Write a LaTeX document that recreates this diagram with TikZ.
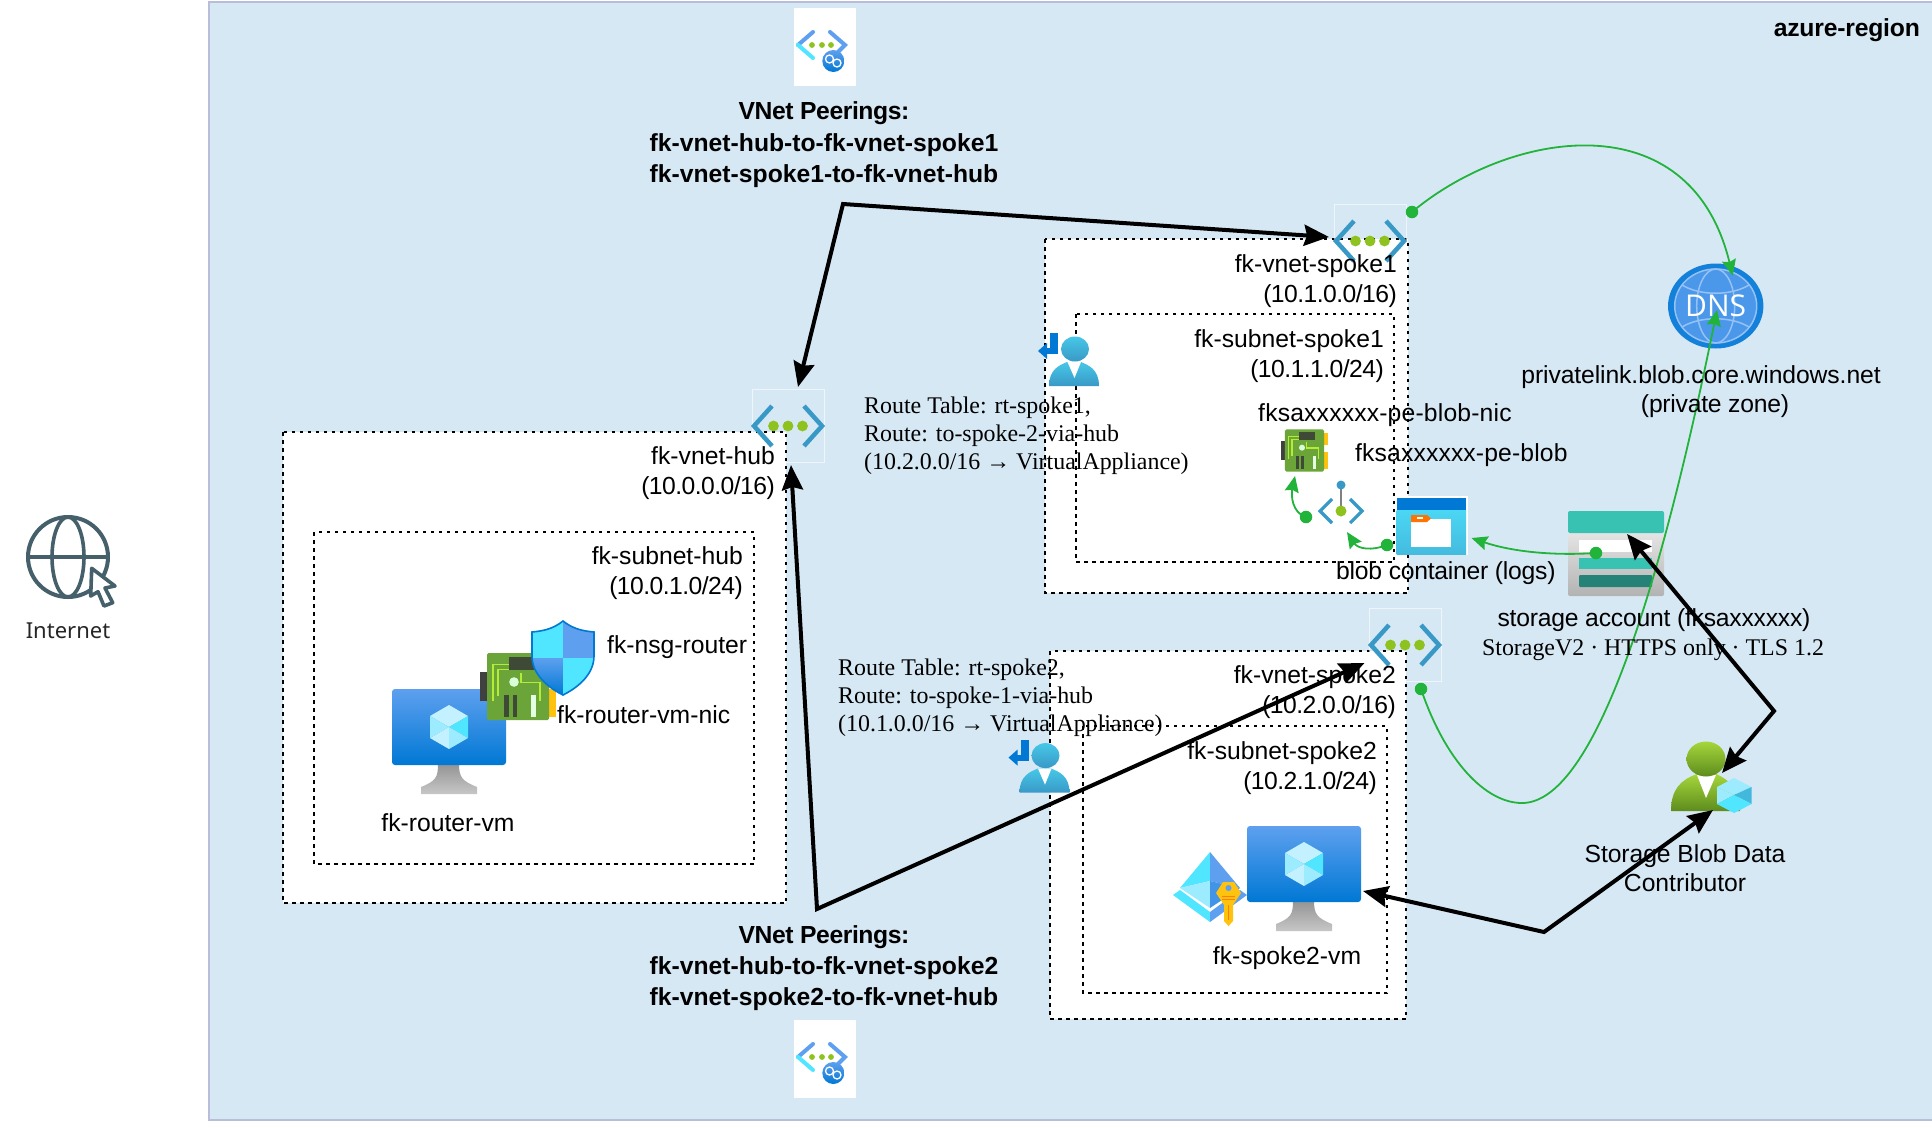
\documentclass[tikz,border=0pt]{standalone}
\usepackage{fontspec}
\setmainfont{Liberation Sans}
\newfontfamily\rtfont{Liberation Serif}
\newfontfamily\inetfont{Noto Sans}
\newfontfamily\dnsfont{Open Sans}
\newcommand\lsp[2]{{\addfontfeature{LetterSpace=#1}#2}}
\usetikzlibrary{arrows.meta,calc}
\definecolor{regionfill}{HTML}{D7E8F5}
\definecolor{regionline}{HTML}{B9BDD9}
\definecolor{gline}{HTML}{22B33A}
\definecolor{chev}{HTML}{3999C6}
\definecolor{vdot}{HTML}{8DC21F}
\definecolor{azc}{HTML}{50E6FF}
\definecolor{azl}{HTML}{C3F1FF}
\definecolor{azm}{HTML}{9CEBFF}
\definecolor{azb}{HTML}{5EA0EF}
\definecolor{azd}{HTML}{0078D4}
\definecolor{inetc}{HTML}{45606A}
\definecolor{teal}{HTML}{37C2B1}
\definecolor{dteal}{HTML}{258277}
\definecolor{nicgreen}{HTML}{6BA539}
\definecolor{niclight}{HTML}{B4EC36}
\definecolor{nicdark}{HTML}{3E4A36}
\definecolor{roletop}{HTML}{A5D63A}
\definecolor{rolebot}{HTML}{5E8C1E}
\definecolor{nicyellow}{HTML}{FFC20E}
\tikzset{
  lab/.style={inner sep=0pt,font=\fontsize{24.7}{29.5}\selectfont,align=center,text=black},
  labr/.style={lab,align=right},
  labb/.style={lab,font=\fontsize{24.7}{31.4}\selectfont\bfseries},
  labs/.style={lab,align=left,font=\fontsize{23.9}{28}\selectfont\rtfont},
  zone/.style={draw=black,fill=white,line width=2pt,dash pattern=on 3.5pt off 4.5pt},
  iconbox/.style={inner sep=0pt,outer sep=0pt,draw=none,rectangle},
  vnetbox/.style={iconbox,draw=white,draw opacity=.6,line width=.6pt,minimum width=72pt,minimum height=73pt},
  gdot/.style={circle,fill=gline,draw=none,minimum size=12.5pt,inner sep=0pt},
  bigarrow/.style={draw=black,line width=4pt,miter limit=20,{Stealth[length=25pt,width=21pt,inset=3pt]}-{Stealth[length=25pt,width=21pt,inset=3pt]}},
  glink/.style={draw=gline,line width=1.8pt,-{Stealth[length=16pt,width=14pt,inset=2pt]}},
  pics/vnetmark/.style={code={
    \draw[chev,line width=4.5pt] (-16,-20) -- (-34,0) -- (-16,20);
    \draw[chev,line width=4.5pt] (16,-20) -- (34,0) -- (16,20);
    \foreach \u in {-14.5,0,14.5}{\fill[vdot] (\u,0) circle[radius=5.4];}
  }},
  pics/peermark/.style={code={
    \fill[white] (-31,-39) rectangle (31,39);
    \draw[azb,line width=4pt,line cap=round] (-12,-15) -- (-27,-2);
    \draw[azc,line width=4pt,line cap=round] (-27,-2) -- (-12,11);
    \draw[azb,line width=4pt,line cap=round] (5,-15) -- (20,-2) -- (12,6);
    \foreach \u in {-13,-3,6}{\fill[vdot] (\u,-2) circle[radius=2.9];}
    \shade[top color=azb,bottom color=azd] (8.3,14) circle[radius=11];
    \draw[white,line width=1.3pt] (4.5,12) circle[radius=4];
    \draw[white,line width=1.3pt] (12,16) circle[radius=4];
  }},
  pics/monitormark/.style={code={
    \shade[top color=black!42,bottom color=black!22] (-11,37) -- (10,37) .. controls (10,50) and (13,54) .. (28,60) -- (28,67) -- (-28,67) -- (-28,60) .. controls (-13,54) and (-11,50) .. (-11,37) -- cycle;
    \shade[top color=azb,bottom color=azd,rounded corners=3pt] (-57,-38) rectangle (57,38);
    \fill[azl] (0,-22) -- (19,-11) -- (0,0) -- (-19,-11) -- cycle;
    \fill[azm] (-19,-11) -- (0,0) -- (-19,11) -- cycle;
    \fill[azc] (19,-11) -- (0,0) -- (19,11) -- cycle;
    \fill[azl] (-19,11) -- (0,0) -- (0,22) -- cycle;
    \fill[azm] (19,11) -- (0,0) -- (0,22) -- cycle;
  }},
  pics/nicmark/.style={code={
    \fill[black!75] (-38,-14.5) rectangle (-31,14.5);
    \fill[nicyellow] (31,-27) rectangle (38,-9);
    \fill[nicyellow] (31,2) rectangle (38,30);
    \fill[nicgreen,rounded corners=1.5pt] (-31,-33.5) rectangle (31,33.5);
    \draw[niclight,line width=1.4pt] (-25,14) -- (-25,-22) -- (-9,-22);
    \draw[niclight,line width=1.4pt] (-20,9) -- (-20,-17) -- (-9,-17);
    \draw[niclight,line width=1.4pt] (3,-14) -- (3,-4) -- (22,-4) -- (22,14);
    \fill[nicdark] (-9,-30) rectangle (17,-17);
    \fill[white!85!green] (-4,-4.5) circle[radius=4.8];
    \fill[nicdark] (-14,8.5) rectangle (-9,30);
    \fill[nicdark] (-5.5,8.5) rectangle (-1,30);
    \fill[white!90!green] (13,8.5) rectangle (18,30);
  }},
  pics/routemark/.style={code={
    \shade[top color=azc!60!chev,bottom color=chev] (-25,25) .. controls (-25,8) and (-14,4) .. (-7,1) -- (7,1) .. controls (14,4) and (25,8) .. (25,25) -- cycle;
    \fill[white] (-6.5,1) -- (7,1) -- (0.5,17) -- cycle;
    \shade[top color=azc!60!chev,bottom color=chev] (1,-12) ellipse[x radius=14,y radius=12.5];
    \fill[azd] (-24,-28) rectangle (-16,-7) ;
    \fill[azd] (-29,-13) rectangle (-16,-7);
    \fill[azd] (-36,-10) -- (-27,-18) -- (-27,-2) -- cycle;
  }},
}
\begin{document}
\begin{tikzpicture}[x=1pt,y=-1pt]
\useasboundingbox (0,0) rectangle (1932,1122);
\fill[white] (0,0) rectangle (1932,1122);
\draw[regionline,fill=regionfill,line width=2pt] (209,2) rectangle (1933,1120);

% zones
\path[zone] (283,432) rectangle (786,903);
\path[zone] (314,532) rectangle (754,864);
\path[zone] (1045,239) rectangle (1408,593);
\path[zone] (1076,314) rectangle (1394,562);
\path[zone] (1050,651) rectangle (1406,1019);
\path[zone] (1083,726) rectangle (1387,993);

% vnet icons
\node[vnetbox] (vnethub) at (788,426) {};
\pic at (788,426) {vnetmark};
\node[vnetbox] (vnetspoke1) at (1370,241) {};
\pic at (1370,241) {vnetmark};
\node[vnetbox] (vnetspoke2) at (1405,645) {};
\pic at (1405,645) {vnetmark};

% peering icons
\node[iconbox,minimum width=62pt,minimum height=78pt] (peeringtop) at (825,47) {};
\pic at (825,47) {peermark};
\node[iconbox,minimum width=62pt,minimum height=78pt] (peeringbottom) at (825,1059) {};
\pic at (825,1059) {peermark};

% internet
\node[iconbox,minimum width=82pt,minimum height=82pt] (internet) at (68,557) {};
\draw[inetc,line width=4pt] (68,557) circle[radius=40];
\draw[inetc,line width=3.6pt] (68,557) ellipse[x radius=16,y radius=40];
\draw[inetc,line width=3.6pt] (28,557) -- (108,557);
\draw[inetc,fill=white,line width=3.6pt,line join=round] (91.7,568.3) -- (115,586) -- (105,588) -- (112.7,602.7) -- (104,606) -- (98,591.7) -- (90.7,596) -- cycle;

% router vm + nic + nsg
\node[iconbox,minimum width=114pt,minimum height=76pt] (routervm) at (449,727) {};
\pic at (449,727) {monitormark};
\node[iconbox,minimum width=62pt,minimum height=67pt] (routernic) at (518,686.5) {};
\pic at (518,686.5) {nicmark};
\node[iconbox,minimum width=62pt,minimum height=74pt] (nsg) at (563,658) {};
\begin{scope}[shift={(563,658)}]
  \begin{scope}
    \clip (0,-37) .. controls (10,-29) and (20,-27) .. (31,-26) -- (31,-2) .. controls (31,17) and (14,30) .. (0,37) .. controls (-14,30) and (-31,17) .. (-31,-2) -- (-31,-26) .. controls (-20,-27) and (-10,-29) .. (0,-37) -- cycle;
    \fill[azc] (-31,-37) rectangle (0,0);
    \fill[azb] (0,-37) rectangle (31,0);
    \shade[top color=azb,bottom color=azd] (-31,0) rectangle (0,37);
    \fill[azc] (0,0) rectangle (31,37);
  \end{scope}
  \draw[azd,line width=1.6pt] (0,-37) .. controls (10,-29) and (20,-27) .. (31,-26) -- (31,-2) .. controls (31,17) and (14,30) .. (0,37) .. controls (-14,30) and (-31,17) .. (-31,-2) -- (-31,-26) .. controls (-20,-27) and (-10,-29) .. (0,-37) -- cycle;
\end{scope}

% route table icons
\node[iconbox,minimum width=61pt,minimum height=53pt] (routeicon1) at (1068.5,359.5) {};
\pic at (1074,361) {routemark};
\node[iconbox,minimum width=61pt,minimum height=53pt] (routeicon2) at (1039,766) {};
\pic at (1044.5,767.6) {routemark};

% private endpoint nic
\node[iconbox,minimum width=39pt,minimum height=43pt] (penic) at (1304.5,450.5) {};
\pic[scale=.63] at (1304.5,450.5) {nicmark};

% private endpoint
\node[iconbox,minimum width=45pt,minimum height=38pt] (pe) at (1341,504) {};
\draw[black!50,line width=2pt] (1341,486) -- (1341,511);
\fill[chev] (1341,485) circle[radius=4.5];
\fill[vdot] (1341,511) circle[radius=5.5];
\draw[chev,line width=3.2pt] (1332,499) -- (1320,511) -- (1332,523);
\draw[chev,line width=3.2pt] (1350,499) -- (1362,511) -- (1350,523);

% blob container
\node[iconbox,minimum width=73.5pt,minimum height=59pt,fill=white] (blob) at (1431.7,525.5) {};
\shade[top color=azc!80!chev,bottom color=azc!45!chev] (1396.5,510) rectangle (1466,554);
\fill[azd] (1396.5,497.5) rectangle (1466,510);
\fill[white] (1411,519) rectangle (1451,547);
\fill[orange!90!red] (1411,515) -- (1427,515) -- (1431,518.5) -- (1427,522) -- (1411,522) -- cycle;
\fill[white] (1417,517.3) rectangle (1423,519);

% storage account
\node[iconbox,minimum width=96pt,minimum height=85pt] (storage) at (1616,553.5) {};
\shade[top color=black!8,bottom color=black!30,rounded corners=2pt] (1568,525) rectangle (1664,596);
\fill[teal,rounded corners=2pt] (1568,511) rectangle (1664,533);
\fill[white] (1579,540) rectangle (1652,552);
\fill[teal] (1579,558) rectangle (1652,569);
\fill[dteal,rounded corners=1pt] (1579,575) rectangle (1652,587);

% dns
\node[iconbox,minimum width=95pt,minimum height=85pt] (dns) at (1715.7,306) {};
\fill[azd!80!azb] (1715.7,306) ellipse[x radius=47.7,y radius=42.5];
\fill[azb!80!azd] (1715.7,306) ellipse[x radius=41,y radius=37];
\draw[azb!65!white,line width=1.5pt] (1715.7,306) ellipse[x radius=41,y radius=37];
\draw[azb!65!white,line width=1.5pt] (1715.7,306) ellipse[x radius=19,y radius=37];
\draw[azb!65!white,line width=1.5pt] (1682,285) .. controls (1700,296) and (1731,296) .. (1749,285);
\draw[azb!65!white,line width=1.5pt] (1682,327) .. controls (1700,316) and (1731,316) .. (1749,327);
\node[inner sep=0pt,text=white,font=\fontsize{30}{30}\dnsfont] (dnstext) at (1715.7,306) {DNS};

% spoke2 vm
\node[iconbox,minimum width=114pt,minimum height=76pt] (spoke2vm) at (1304,864) {};
\pic at (1304,864) {monitormark};

% identity / key
\node[iconbox,minimum width=74pt,minimum height=74pt] (keyicon) at (1210,889) {};
\fill[azc] (1173,895) -- (1180,890) -- (1210,912) -- (1210,922) -- cycle;
\fill[azb] (1247,895) -- (1240,890) -- (1210,912) -- (1210,922) -- cycle;
\fill[azc] (1210,852) -- (1180,888) -- (1210,881) -- cycle;
\fill[azm] (1180,888) -- (1210,881) -- (1210,908) -- cycle;
\fill[azb] (1210,852) -- (1240,888) -- (1210,881) -- cycle;
\fill[azb!70!azd] (1240,888) -- (1210,881) -- (1210,908) -- cycle;
\fill[nicyellow] (1216,893) -- (1223,882) -- (1234,882) -- (1241,893) -- (1233,905) -- (1233,921) -- (1228.5,926) -- (1224,921) -- (1224,905) -- cycle;
\fill[azb] (1228.5,888) circle[radius=3];
\draw[orange,line width=1pt] (1222,896) -- (1235,896);
\draw[orange,line width=1pt] (1222,899) -- (1235,899);
\draw[orange,line width=1pt] (1228,905) -- (1228,920);

% role
\node[iconbox,minimum width=80pt,minimum height=71pt] (role) at (1711,777.5) {};
\shade[top color=roletop,bottom color=rolebot] (1671,811) .. controls (1671,790) and (1680,780) .. (1697,774) -- (1716,774) .. controls (1730,780) and (1740,790) .. (1740,811) -- cycle;
\fill[white] (1697,775) -- (1716,775) -- (1706,798) -- cycle;
\shade[top color=roletop,bottom color=rolebot] (1706,759) ellipse[x radius=19.5,y radius=17.5];
\fill[azm] (1734,778) -- (1751.5,787) -- (1734,795) -- (1717,787) -- cycle;
\fill[chev!60!azc] (1751.5,787) -- (1751.5,804) -- (1734,795) -- cycle;
\fill[azm] (1717,787) -- (1734,795) -- (1717,804) -- cycle;
\fill[azc] (1717,804) -- (1734,795) -- (1751.5,804) -- (1734,813) -- cycle;

% way points
\coordinate (waytop) at (843,204);
\coordinate (waybottom) at (817,909);
\coordinate (wayright) at (1774,711);
\coordinate (waylow) at (1544,932);

% green dots
\node[gdot] (dotspoke1) at (1412,212) {};
\node[gdot] (dotspoke2) at (1421,689) {};
\node[gdot] (dotpe) at (1306,517) {};
\node[gdot] (dotblob) at (1387,545) {};
\node[gdot] (dotstorage) at (1596,553) {};

% green links
\draw[glink] (dotspoke1.center) .. controls (1510,130) and (1690,100) .. ($(dns)+(17,-30.3)$);
\draw[glink] (dotspoke2.center) .. controls (1445,760) and (1485,803) .. (1522,803) .. controls (1585,803) and (1650,640) .. ($(dns)+(1.3,4)$);
\draw[glink] (dotpe.center) .. controls (1292,513) and (1291,495) .. ($(penic.south)+(-9.5,4)$);
\draw[glink] (dotblob.center) .. controls (1372,551) and (1358,549) .. ($(pe.south)+(6,9)$);
\draw[glink] (dotstorage.center) .. controls (1550,556) and (1510,551) .. ($(blob.east)+(3,12.5)$);

% black links
\draw[bigarrow] ($(vnethub)+(10,-39)$) -- (waytop) -- ($(vnetspoke1)+(-41,-4)$);
\draw[bigarrow] ($(vnethub)+(3,39)$) -- (waybottom) -- ($(vnetspoke2)+(-40.5,18)$);
\draw[bigarrow] ($(storage)+(11,-19.5)$) -- (wayright) -- ($(role)+(11,-4.5)$);
\draw[bigarrow] ($(spoke2vm)+(59,27)$) -- (waylow) -- ($(role)+(2,32.5)$);

% labels
\node[labb] (t1) at (824,145) {\lsp{-1.7}{VNet Peerings:}\\fk-vnet-hub-to-fk-vnet-spoke1\\fk-vnet-spoke1-to-fk-vnet-hub};
\node[labb] (t2) at (824,968) {\lsp{-1.7}{VNet Peerings:}\\fk-vnet-hub-to-fk-vnet-spoke2\\fk-vnet-spoke2-to-fk-vnet-hub};
\node[labb,anchor=east] (t3) at (1920,30.5) {\lsp{-.8}{azure-region}};
\node[labr,anchor=east] (t4) at (775,473) {fk-vnet-hub\\\lsp{-2.2}{(10.0.0.0/16)}};
\node[labr,anchor=east] (t5) at (743,573) {fk-subnet-hub\\\lsp{-2.2}{(10.0.1.0/24)}};
\node[lab,anchor=west] (t6) at (607,647.5) {fk-nsg-router};
\node[lab,anchor=west] (t7) at (557,715) {fk-router-vm-nic};
\node[lab] (t8) at (448,823) {fk-router-vm};
\node[labr,anchor=east] (t9) at (1397,281) {fk-vnet-spoke1\\\lsp{-2.2}{(10.1.0.0/16)}};
\node[labr,anchor=east] (t10) at (1384,356) {fk-subnet-spoke1\\\lsp{-2.2}{(10.1.1.0/24)}};
\node[lab,anchor=west] (t11) at (1258,415.5) {\lsp{.7}{fksaxxxxxx-pe-blob-nic}};
\node[lab,anchor=west] (t12) at (1355,455.5) {\lsp{.55}{fksaxxxxxx-pe-blob}};
\node[lab,anchor=west] (t13) at (1336,573.5) {\lsp{-1}{blob container (logs)}};
\node[lab] (t14) at (1701,377.5) {\lsp{-.4}{privatelink.blob.core.windows.net}};
\node[lab] (t15) at (1715,406.5) {\lsp{-1}{(private zone)}};
\node[lab] (t16) at (1654,620.5) {\lsp{-.9}{storage account (fksaxxxxxx)}};
\node[lab,font=\fontsize{23.9}{28}\selectfont\rtfont] (t17) at (1653,650) {StorageV2 · HTTPS only · TLS 1.2};
\node[labs,anchor=west] (t18) at (864,436) {Route Table: rt-spoke1,\\Route: to-spoke-2-via-hub\\(10.2.0.0/16 → VirtualAppliance)};
\node[labs,anchor=west] (t19) at (838,698) {Route Table: rt-spoke2,\\Route: to-spoke-1-via-hub\\(10.1.0.0/16 → VirtualAppliance)};
\node[labr,anchor=east] (t20) at (1396,692) {fk-vnet-spoke2\\\lsp{-2.2}{(10.2.0.0/16)}};
\node[labr,anchor=east] (t21) at (1377,768) {fk-subnet-spoke2\\\lsp{-2.2}{(10.2.1.0/24)}};
\node[lab] (t22) at (1287,958) {fk-spoke2-vm};
\node[lab] (t23) at (1685,868) {\lsp{-.3}{Storage Blob Data}\\Contributor};
\node[lab,text=black!85,font=\fontsize{22}{25}\inetfont] (t24) at (68,631) {Internet};
\end{tikzpicture}
\end{document}
